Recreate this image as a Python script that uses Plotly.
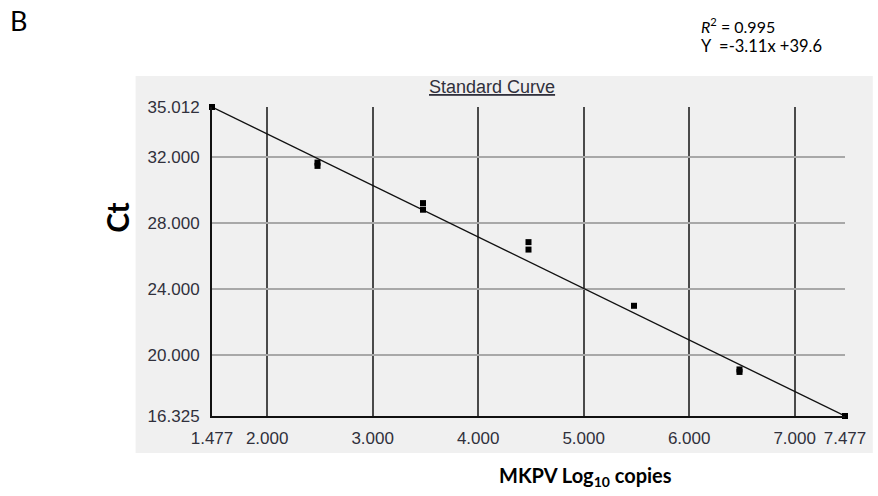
import plotly.graph_objects as go

# Data
log_copies = [1.477, 2.477, 2.477, 3.477, 3.477, 4.477, 4.477, 5.477, 6.477, 6.477, 7.477]
ct_values = [35.012, 31.65, 31.45, 29.2, 28.8, 26.84, 26.39, 22.99, 19.14, 18.99, 16.325]
fit_x = [1.477, 7.477]
fit_y = [35.012, 16.325]
x_tickvals = [1.477, 2.0, 3.0, 4.0, 5.0, 6.0, 7.0, 7.477]
x_ticktext = ["1.477", "2.000", "3.000", "4.000", "5.000", "6.000", "7.000", "7.477"]
y_tickvals = [16.325, 20.0, 24.0, 28.0, 32.0, 35.012]
y_ticktext = ["16.325", "20.000", "24.000", "28.000", "32.000", "35.012"]

W, H = 878, 496
L, R, T, B = 212, 850, 107, 416


def px(x):
    return (x - L) / (R - L)


def py(y):
    return (B - y) / (B - T)


fig = go.Figure()
fig.add_trace(go.Scatter(x=fit_x, y=fit_y, mode="lines",
                         line=dict(color="#111111", width=1.3),
                         hoverinfo="skip", showlegend=False, cliponaxis=False))
fig.add_trace(go.Scatter(x=log_copies, y=ct_values, mode="markers",
                         marker=dict(symbol="square", size=6, color="#000000",
                                     line=dict(width=0)),
                         showlegend=False, cliponaxis=False))

tick_font = dict(family="Arial, Liberation Sans, sans-serif", size=17, color="#30303c")

fig.update_layout(
    width=W, height=H,
    margin=dict(l=L, r=W - R, t=T, b=H - B, pad=0),
    paper_bgcolor="white",
    plot_bgcolor="white",
    xaxis=dict(range=[1.477, 7.477], tickvals=x_tickvals, ticktext=x_ticktext,
               showgrid=True, gridcolor="#4a4a4a", gridwidth=2,
               showline=True, linecolor="#111111", linewidth=2,
               ticks="", tickfont=tick_font, zeroline=False, ticklabelstandoff=6),
    yaxis=dict(range=[16.325, 35.012], tickvals=y_tickvals, ticktext=y_ticktext,
               showgrid=True, gridcolor="#a8a8a8", gridwidth=2,
               showline=True, linecolor="#111111", linewidth=2,
               ticks="", tickfont=tick_font, zeroline=False, ticklabelstandoff=7),
    shapes=[
        dict(type="rect", xref="paper", yref="paper", layer="below",
             x0=px(135), x1=px(878), y0=py(453), y1=py(76),
             fillcolor="#f0f0f0", line=dict(width=0)),
    ],
    annotations=[
        dict(text="Standard Curve", xref="paper", yref="paper",
             x=px(494), y=py(87), showarrow=False,
             xanchor="center", yanchor="middle",
             font=dict(family="Arial, Liberation Sans, sans-serif", size=18,
                       color="#30303c", lineposition="under")),
        dict(text="<b>Ct</b>", xref="paper", yref="paper",
             x=px(116), y=py(217), showarrow=False,
             textangle=-90, xanchor="center", yanchor="middle",
             font=dict(family="Lato, sans-serif", size=30, color="#000000")),
        dict(text="<b>MKPV Log<sub>10</sub> copies</b>", xref="paper", yref="paper",
             x=px(588), y=py(476), showarrow=False,
             xanchor="center", yanchor="middle",
             font=dict(family="Lato, sans-serif", size=20, color="#000000")),
        dict(text="B", xref="paper", yref="paper",
             x=px(17), y=py(21), showarrow=False,
             xanchor="center", yanchor="middle",
             font=dict(family="Lato, sans-serif", size=27, color="#000000")),
        dict(text="<i>R</i><sup>2</sup> = 0.995", xref="paper", yref="paper",
             x=px(703), y=py(26), showarrow=False,
             xanchor="left", yanchor="middle",
             font=dict(family="Lato, sans-serif", size=16, color="#000000")),
        dict(text="Y  =-3.11x +39.6", xref="paper", yref="paper",
             x=px(703), y=py(46), showarrow=False,
             xanchor="left", yanchor="middle",
             font=dict(family="Lato, sans-serif", size=16.5, color="#000000")),
    ],
)

fig.write_html("out.html", config={"displayModeBar": False},
               post_script="document.body.style.margin='0';")
